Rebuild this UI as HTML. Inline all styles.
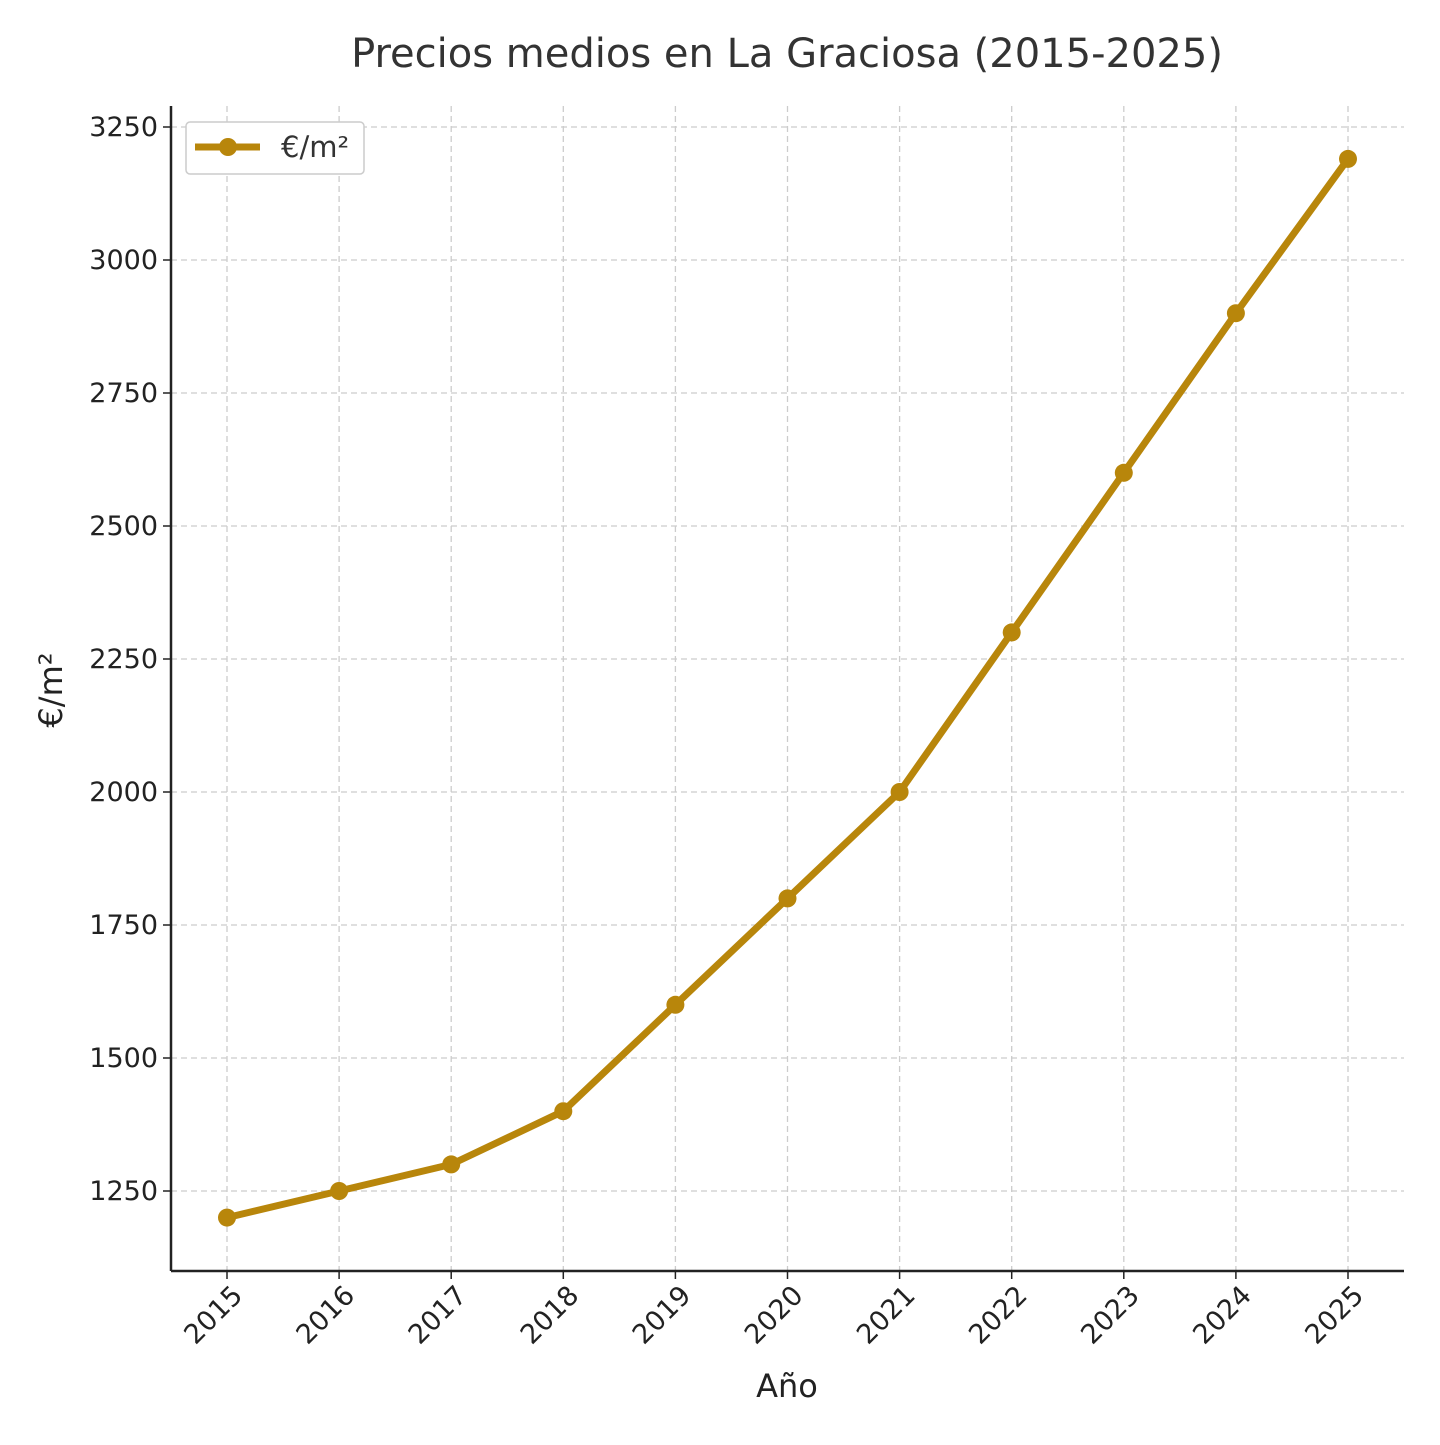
<!DOCTYPE html>
<html><head><meta charset="utf-8"><style>
html,body{margin:0;padding:0;background:#fff;}
svg text{font-family:"DejaVu Sans","Liberation Sans",sans-serif;}
</style></head><body>
<svg id="chart" width="1440" height="1440" viewBox="0 0 1440 1440" xmlns="http://www.w3.org/2000/svg">
<rect width="1440" height="1440" fill="#fff"/>
<text x="787" y="67" text-anchor="middle" font-size="40" fill="#333">Precios medios en La Graciosa (2015-2025)</text>
<g id="grid"></g>
<g id="axes"></g>
<g id="series"></g>
<text x="787" y="1397" text-anchor="middle" font-size="32" fill="#222">Año</text>
<text transform="translate(62,690) rotate(-90)" text-anchor="middle" font-size="32" fill="#222">€/m²</text>
<g>
<rect x="186" y="122" width="178" height="52" rx="4" fill="#fff" stroke="#ccc" stroke-width="1.5"/>
<line x1="195" y1="147" x2="260" y2="147" stroke="#b8860b" stroke-width="7"/>
<circle cx="228" cy="147" r="9" fill="#b8860b"/>
<text x="281" y="157" font-size="29" fill="#333">€/m²</text>
</g>
</svg>
<script>
const years = [2015,2016,2017,2018,2019,2020,2021,2022,2023,2024,2025];
const prices = [1200,1250,1300,1400,1600,1800,2000,2300,2600,2900,3190];
const yTicks = [1250,1500,1750,2000,2250,2500,2750,3000,3250];

const NS = "http://www.w3.org/2000/svg";
const L = 171, R = 1404, T = 106, B = 1271;
function xScale(yr){ return 227 + (yr - 2015) * (1348 - 227) / 10; }
function yScale(v){ return 1191 - (v - 1250) * (1191 - 127) / 2000; }
function mk(tag, attrs, parent){
  const e = document.createElementNS(NS, tag);
  for (const k in attrs) e.setAttribute(k, attrs[k]);
  parent.appendChild(e); return e;
}
const grid = document.getElementById('grid');
const axes = document.getElementById('axes');
const series = document.getElementById('series');

yTicks.forEach(v => {
  const y = yScale(v);
  const g = mk('line', {x1:L, x2:R, y1:y, y2:y, stroke:'#ccc', 'stroke-width':1.3, 'stroke-dasharray':'6,4'}, grid);
  
  
  const t = mk('line', {x1:L-8, x2:L, y1:y, y2:y, stroke:'#222', 'stroke-width':1.5}, axes);
  
  
  const lb = mk('text', {x:L-13, y:y+9, 'text-anchor':'end', 'font-size':27, fill:'#222'}, axes);
  lb.textContent = v;
  
  
});
years.forEach(yr => {
  const x = xScale(yr);
  const g = mk('line', {x1:x, x2:x, y1:T, y2:B, stroke:'#ccc', 'stroke-width':1.3, 'stroke-dasharray':'6,4'}, grid);
  
  
  const t = mk('line', {x1:x, x2:x, y1:B, y2:B+8, stroke:'#222', 'stroke-width':1.5}, axes);
  
  
  const lb = mk('text', {x:0, y:0, 'text-anchor':'end', 'font-size':27, fill:'#222', transform:`translate(${x+17},${B+26}) rotate(-45)`}, axes);
  lb.textContent = yr;
  
  
});
const sl = mk('line', {x1:L, x2:L, y1:T, y2:B, stroke:'#222', 'stroke-width':2.5}, axes);


const sb = mk('line', {x1:L, x2:R, y1:B, y2:B, stroke:'#222', 'stroke-width':2.5}, axes);



const pts = years.map((yr,i) => xScale(yr) + ',' + yScale(prices[i])).join(' ');
const pl = mk('polyline', {points:pts, fill:'none', stroke:'#b8860b', 'stroke-width':7, 'stroke-linejoin':'round', 'stroke-linecap':'round'}, series);


years.forEach((yr,i) => {
  const c = mk('circle', {cx:xScale(yr), cy:yScale(prices[i]), r:9, fill:'#b8860b'}, series);
  
  
});
</script>
</body></html>
